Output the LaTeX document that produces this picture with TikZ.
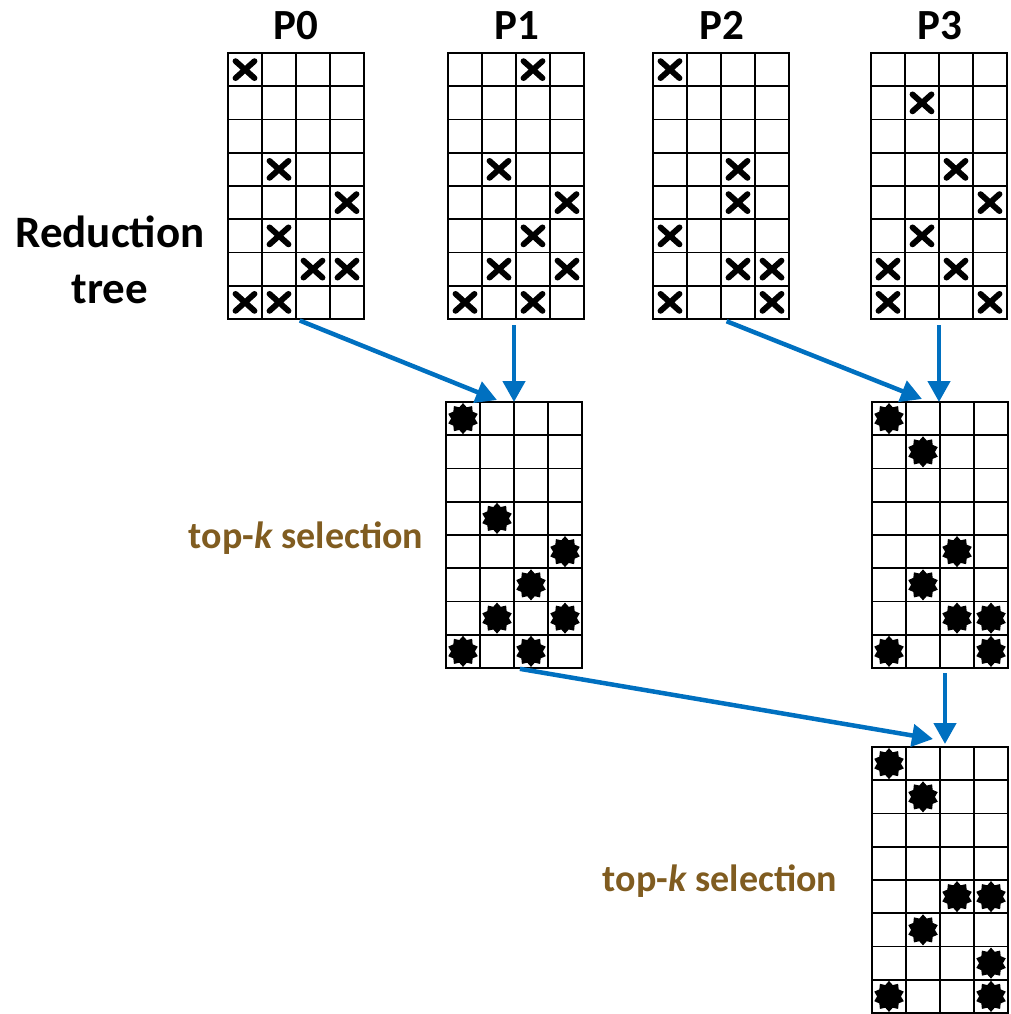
\documentclass[tikz,border=0pt]{standalone}
\usepackage{fontspec}
\setmainfont{Carlito}
\usetikzlibrary{arrows.meta,shapes.geometric}
\definecolor{arrblue}{RGB}{0,112,192}
\definecolor{selbrown}{RGB}{128,92,32}
\tikzset{
 gridbox/.style={draw, line width=2.2pt, minimum width=136pt, minimum height=266pt, inner sep=0pt, outer sep=0pt, anchor=north west},
 gridline/.style={line width=1.6pt},
 xmark/.style={line width=5.8pt, line cap=round},
 starmark/.style={star, star points=10, star point ratio=1.3, fill=black, minimum size=31pt, inner sep=0pt},
 arr/.style={arrblue, line width=4.5pt, -{Triangle[length=21pt,width=22pt]}},
 plabel/.style={font=\bfseries\fontsize{43}{43}\selectfont, anchor=base},
 rlabel/.style={font=\bfseries\fontsize{45}{45}\selectfont, anchor=base},
 sellabel/.style={font=\bfseries\fontsize{38}{38}\selectfont, text=selbrown, anchor=base},
}
\newcommand{\mkgrid}[3]{%
  \node[gridbox] (#1) at (#2,#3) {};
  \foreach \i in {1,2,3} \draw[gridline] (#2+\i*34,#3) -- (#2+\i*34,#3+266);
  \foreach \j in {1,...,7} \draw[gridline] (#2,#3+\j*33.25) -- (#2+136,#3+\j*33.25);
}
\newcommand{\xmarks}[2]{%
  \foreach \c/\r in {#2} \draw[xmark] ([shift={(\c*34+17,\r*33.25+16.625)}]#1.north west) ++(-9.5,-8.5) -- ++(19,17) ++(0,-17) -- ++(-19,17);
}
\newcommand{\starmarks}[2]{%
  \foreach \c/\r in {#2} \node[starmark] (#1-\c-\r) at ([shift={(\c*34+17,\r*33.25+16.625)}]#1.north west) {};
}
\begin{document}
\begin{tikzpicture}[x=1pt,y=-1pt]
\useasboundingbox (0,0) rectangle (1011,1014);
% labels
\node[plabel] (lp0) at (296,40) {P0};
\node[plabel] (lp1) at (517,40) {P1};
\node[plabel] (lp2) at (722,40) {P2};
\node[plabel] (lp3) at (940,40) {P3};
\node[rlabel] (lred) at (110,247) {Reduction};
\node[rlabel] (ltree) at (110,303) {tree};
\node[sellabel] (lsel1) at (306,548) {top-\textit{k} selection};
\node[sellabel] (lsel2) at (720,891) {top-\textit{k} selection};
% grids
\mkgrid{g0}{228}{53}
\mkgrid{g1}{448}{53}
\mkgrid{g2}{653}{53}
\mkgrid{g3}{871}{53}
\mkgrid{m1}{446}{402}
\mkgrid{m3}{872}{402}
\mkgrid{bt}{872}{747}
% marks
\xmarks{g0}{0/0,1/3,3/4,1/5,2/6,3/6,0/7,1/7}
\xmarks{g1}{2/0,1/3,3/4,2/5,1/6,3/6,0/7,2/7}
\xmarks{g2}{0/0,2/3,2/4,0/5,2/6,3/6,0/7,3/7}
\xmarks{g3}{1/1,2/3,3/4,1/5,0/6,2/6,0/7,3/7}
\starmarks{m1}{0/0,1/3,3/4,2/5,1/6,3/6,0/7,2/7}
\starmarks{m3}{0/0,1/1,2/4,1/5,2/6,3/6,0/7,3/7}
\starmarks{bt}{0/0,1/1,2/4,3/4,1/5,3/6,0/7,3/7}
% arrow targets
\coordinate (t1) at (497,400);
\coordinate (t2) at (514,402);
\coordinate (t3) at (922,399);
\coordinate (t4) at (939,402);
\coordinate (s5) at (515,668);
\coordinate (t5) at (933,739);
\coordinate (s6) at (945,668);
\coordinate (t6) at (945,744);
% arrows
\draw[arr, shorten <=4pt] (g0.south) -- (t1);
\draw[arr, shorten <=6pt] (g1.south -| t2) -- (t2);
\draw[arr, shorten <=6pt] (g2.south) -- (t3);
\draw[arr, shorten <=6pt] (g3.south -| t4) -- (t4);
\draw[arr, shorten <=5pt] (s5) -- (t5);
\draw[arr, shorten <=5pt] (s6) -- (t6);
\end{tikzpicture}
\end{document}
